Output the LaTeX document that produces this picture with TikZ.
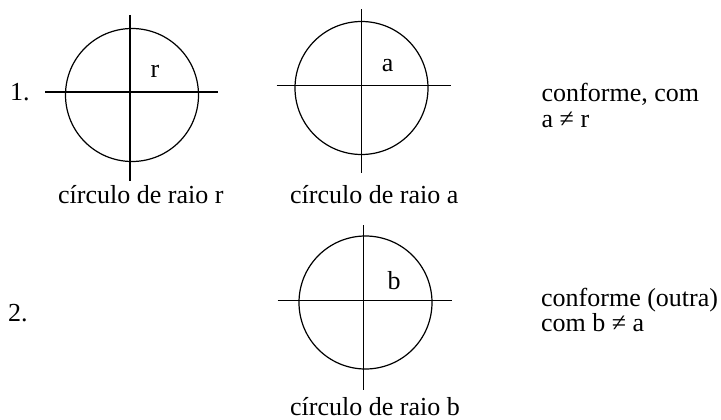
\documentclass[tikz,border=0pt]{standalone}
\usepackage{fontspec}
\setmainfont{Liberation Serif}
\begin{document}
\begin{tikzpicture}[x=1pt,y=-1pt,
  ax/.style={line width=1.2pt},
  ring/.style={circle,draw,line width=1.2pt,inner sep=0pt,minimum size=133pt},
  txt/.style={anchor=base west,inner sep=0pt,font=\fontsize{26}{30}\selectfont},
  lab/.style={anchor=base,inner sep=0pt,font=\fontsize{26}{30}\selectfont}]
\useasboundingbox (0,0) rectangle (721,420);
% circle 1
\node[ring] (c1) at (132,95) {};
\coordinate (v1t) at (130,15); \coordinate (v1b) at (130,181);
\coordinate (h1l) at (45,92); \coordinate (h1r) at (218,92);
\draw[ax] (v1t) -- (v1b);
\draw[ax] (h1l) -- (h1r);
\node[lab] (lr) at (155,77.5) {r};
% circle 2
\node[ring] (c2) at (361.5,88) {};
\coordinate (v2t) at (361.7,9.5); \coordinate (v2b) at (361.7,173);
\coordinate (h2l) at (276.7,85.7); \coordinate (h2r) at (450.7,85.7);
\draw[ax] (v2t) -- (v2b);
\draw[ax] (h2l) -- (h2r);
\node[lab] (la) at (387.7,71.7) {a};
% circle 3
\node[ring] (c3) at (365.5,302.5) {};
\coordinate (v3t) at (363.3,225); \coordinate (v3b) at (363.3,390);
\coordinate (h3l) at (277.7,300.7); \coordinate (h3r) at (451.7,300.7);
\draw[ax] (v3t) -- (v3b);
\draw[ax] (h3l) -- (h3r);
\node[lab] (lb) at (394,289.3) {b};
% numbers
\node[txt] (n1) at (10,100) {1.};
\node[txt] (n2) at (8,321.7) {2.};
% captions
\node[txt] (cap1) at (58,203) {círculo de raio r};
\node[txt] (cap2) at (290,203) {círculo de raio a};
\node[txt] (cap3) at (290,415) {círculo de raio b};
% right texts
\node[txt] (t1a) at (541.5,101.7) {conforme, com};
\node[txt] (t1b) at (541.5,128) {a ≠ r};
\node[txt] (t2a) at (541,306.7) {conforme (outra)};
\node[txt] (t2b) at (541,331.7) {com b ≠ a};
\end{tikzpicture}
\end{document}
